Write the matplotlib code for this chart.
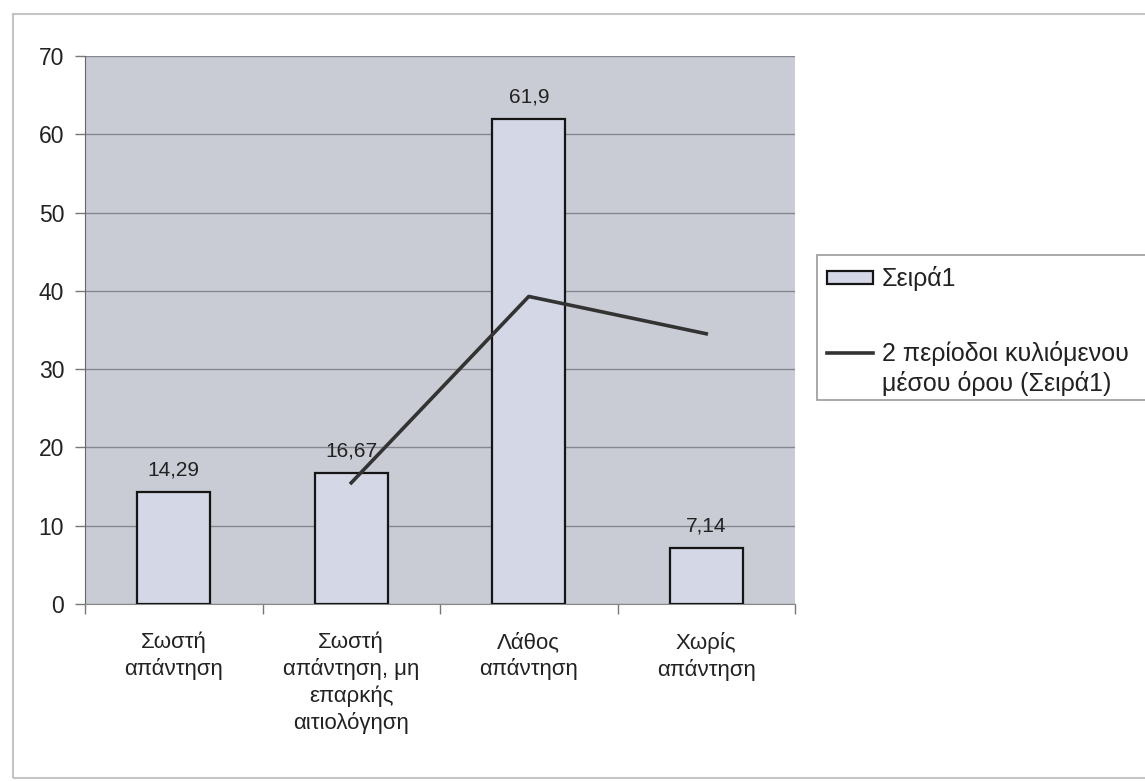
import matplotlib.pyplot as plt
import numpy as np
from matplotlib.patches import Rectangle
from matplotlib.legend_handler import HandlerLine2D, HandlerPatch

plt.rcParams['font.family'] = ['Liberation Sans', 'DejaVu Sans']

categories = ['Σωστή\nαπάντηση', 'Σωστή\nαπάντηση, μη\nεπαρκής\nαιτιολόγηση',
              'Λάθος\nαπάντηση', 'Χωρίς\nαπάντηση']
values = [14.29, 16.67, 61.9, 7.14]
value_labels = ['14,29', '16,67', '61,9', '7,14']
yticks = [0, 10, 20, 30, 40, 50, 60, 70]

# 2-period moving average of the series
moving_avg = [(values[i - 1] + values[i]) / 2 for i in range(1, len(values))]


class TopLineHandler(HandlerLine2D):
    # put the line key level with the first row of a two-row label
    def create_artists(self, legend, orig_handle, xdescent, ydescent, width, height, fontsize, trans):
        artists = super().create_artists(legend, orig_handle, xdescent, ydescent,
                                         width, height, fontsize, trans)
        for a in artists:
            a.set_ydata(np.asarray(a.get_ydata()) + 0.66 * fontsize)
        return artists


def thin_box(legend, orig_handle, xdescent, ydescent, width, height, fontsize):
    return Rectangle((-xdescent, -ydescent + height * 0.1), width, height * 0.75)


W, H = 1145, 781
fig = plt.figure(figsize=(W / 100, H / 100), dpi=100)
fig.patch.set_facecolor('white')

# outer chart border
fig.patches.append(Rectangle((13 / W, 3 / H), 1.0, 764 / H, transform=fig.transFigure,
                             facecolor='none', edgecolor='#c4c4c4', linewidth=1.5))

ax = fig.add_axes([85 / W, 177 / H, 710 / W, 548 / H])
ax.set_facecolor('#c9ccd4')

x = np.arange(len(values))
bars = ax.bar(x, values, width=0.41, color='#d4d7e6', edgecolor='#151515', linewidth=1.6,
              zorder=3)
line, = ax.plot(x[1:], moving_avg, color='#333333', linewidth=2.6, zorder=4)

for xi, v, lab in zip(x, values, value_labels):
    ax.text(xi, v + 1.6, lab, ha='center', va='bottom', fontsize=15, color='#222222', zorder=5)

ax.set_xlim(-0.5, len(values) - 0.5)
ax.set_ylim(0, 70)
ax.set_yticks(yticks)
ax.set_yticklabels([str(t) for t in yticks], fontsize=16.5, color='#222222')
ax.yaxis.grid(True, color='#85888f', linewidth=1.0, zorder=1)

# category labels centred, ticks on category boundaries
ax.set_xticks(x)
ax.set_xticklabels(categories, fontsize=16, color='#222222', linespacing=1.3)
ax.tick_params(axis='x', length=0, pad=20)
ax.set_xticks(np.arange(-0.5, len(values)), minor=True)
ax.tick_params(axis='x', which='minor', length=7, color='#777777', width=1)
ax.tick_params(axis='y', length=7, color='#777777', width=1, pad=8)

for side in ['top', 'right']:
    ax.spines[side].set_visible(False)
ax.spines['left'].set_color('#666666')
ax.spines['bottom'].set_color('#888888')

# legend box drawn separately so its edges sit where wanted
fig.patches.append(Rectangle((817 / W, 1 - 400 / H), 340 / W, 145 / H, transform=fig.transFigure,
                             facecolor='white', edgecolor='#999999', linewidth=1.2))

bar_key = bars.patches[0]
leg = fig.legend([bar_key, line], ['Σειρά1', '2 περίοδοι κυλιόμενου\nμέσου όρου (Σειρά1)'],
                 loc='upper left', bbox_to_anchor=(827 / W, 1 - 266 / H),
                 fontsize=18, frameon=False, borderpad=0,
                 labelspacing=2.0, handlelength=1.84, handletextpad=0.36, borderaxespad=0,
                 handler_map={line: TopLineHandler(),
                              bar_key: HandlerPatch(patch_func=thin_box)})
for t in leg.get_texts():
    t.set_color('#222222')
    t.set_linespacing(1.25)

plt.savefig('out.png', dpi=100)
